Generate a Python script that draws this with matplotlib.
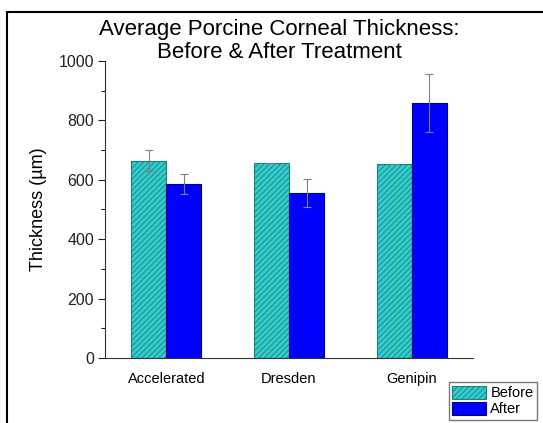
import numpy as np
import matplotlib
matplotlib.use("Agg")
import matplotlib.pyplot as plt
from matplotlib.patches import Rectangle, Patch

plt.rcParams["font.family"] = ["Liberation Sans", "DejaVu Sans"]
plt.rcParams["hatch.linewidth"] = 0.6

# Data
treatments = ["Accelerated", "Dresden", "Genipin"]
before = [664, 658, 654]
before_err = [36, 0, 0]
after = [586, 555, 859]
after_err = [34, 46, 97]

fig = plt.figure(figsize=(5.43, 4.23), dpi=100)
ax = fig.add_axes([0.1934, 0.1537, 0.6776, 0.7021])

x = np.arange(len(treatments))
w = 0.286

ax.bar(x - w / 2, before, w, color="#33CCCC", edgecolor="#1a8080", hatch="//////",
       linewidth=0.8, label="Before", zorder=2)
ax.bar(x + w / 2, after, w, color="#0000FF", edgecolor="#000080",
       linewidth=0.8, label="After", zorder=2)
ax.errorbar(x - w / 2, before, yerr=before_err, fmt="none", ecolor="#808080",
            elinewidth=0.8, capsize=3, capthick=0.8, zorder=3)
ax.errorbar(x + w / 2, after, yerr=after_err, fmt="none", ecolor="#808080",
            elinewidth=0.8, capsize=3, capthick=0.8, zorder=3)

ax.set_xlim(-0.5, 2.5)
ax.set_ylim(0, 1000)
ax.set_xticks(x)
ax.set_xticklabels(treatments, fontsize=10.5)
ax.tick_params(axis="x", length=0, pad=10)
ax.set_yticks(np.arange(0, 1001, 200))
ax.set_yticks(np.arange(100, 1000, 200), minor=True)
ax.tick_params(axis="y", which="major", length=5, width=0.8, labelsize=11.5,
               direction="out", pad=3, colors="#222222")
ax.tick_params(axis="y", which="minor", length=3, width=0.8, direction="out", colors="#222222")
ax.spines["top"].set_visible(False)
ax.spines["right"].set_visible(False)
ax.spines["left"].set_color("#333333")
ax.spines["bottom"].set_color("#333333")
ax.set_ylabel("Thickness (µm)", fontsize=13, labelpad=8)

fig.text(0.514, 0.903, "Average Porcine Corneal Thickness:\nBefore & After Treatment",
         ha="center", va="center", fontsize=16, linespacing=1.15)

handles = [Patch(facecolor="#33CCCC", edgecolor="#1a8080", hatch="//////", linewidth=0.8),
           Patch(facecolor="#0000FF", edgecolor="#000080", linewidth=0.8)]
leg = fig.legend(handles, ["Before", "After"], loc="lower right",
                 bbox_to_anchor=(0.989, 0.007), fontsize=10.5, frameon=True, fancybox=False,
                 borderpad=0.25, labelspacing=0.1, handlelength=2.3, handleheight=1.0,
                 handletextpad=0.3, borderaxespad=0)
leg.get_frame().set_edgecolor("#555555")
leg.get_frame().set_linewidth(1.0)

# outer frame of the original picture
fig.patches.append(Rectangle((0.013, -0.05), 1.1, 0.0216 + 1.0, transform=fig.transFigure,
                             fill=False, edgecolor="black", linewidth=1.5, clip_on=False))

fig.savefig("out.png", dpi=100)
